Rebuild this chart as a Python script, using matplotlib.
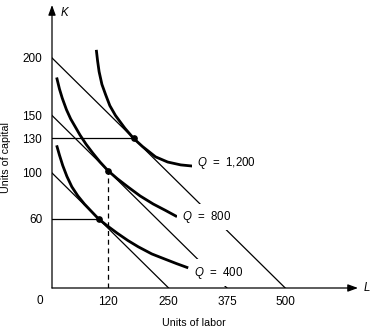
import matplotlib
matplotlib.use('Agg')
import matplotlib.pyplot as plt

plt.rcParams['font.family'] = ['Liberation Sans', 'DejaVu Sans']
plt.rcParams['mathtext.fontset'] = 'custom'
plt.rcParams['mathtext.it'] = 'Liberation Sans:italic'
plt.rcParams['mathtext.rm'] = 'Liberation Sans'

# ---- data ----
budget_K_intercepts = [200, 150, 100]
budget_L_intercepts = [500, 375, 250]

Q_labels = ['1,200', '800', '400']
Q1200_L = [95, 97.7, 101, 107, 115, 124, 136, 156, 175, 194, 222, 248, 276, 301]
Q1200_K = [207, 197.5, 188, 177, 168, 158.5, 150, 139, 130, 123, 114, 109.5, 107, 106]
Q800_L = [10, 16, 22, 31, 40, 50, 60, 73, 87, 103, 120, 140, 164, 189, 217, 243, 268]
Q800_K = [183, 173, 165, 155, 147, 140, 133, 125, 117.5, 109.5, 102, 95, 87.5, 80, 73, 67.5, 62]
Q400_L = [10, 16, 23, 32, 42.5, 55.5, 69.5, 84, 100, 118, 140, 163, 185, 214, 241, 267, 292]
Q400_K = [124, 115.5, 106.5, 97, 88, 80, 73, 66.8, 60, 54.2, 47.6, 41.2, 35.8, 29.6, 25.3, 21.2, 17.5]

tangency_L = [175, 120, 100]
tangency_K = [130, 102, 60]

x_ticks = [120, 250, 375, 500]
y_ticks = [60, 100, 130, 150, 200]

W, H = 371, 330
fig = plt.figure(figsize=(W / 100, H / 100), dpi=100)
ax = fig.add_axes([52 / W, (H - 288) / H, 306 / W, 283 / H])
ax.set_xlim(0, 656)
ax.set_ylim(0, 246)
for s in ax.spines.values():
    s.set_visible(False)

# axes with arrows
arrow_kw = dict(arrowstyle='-|>,head_length=0.6,head_width=0.22', lw=0.9,
                color='black', shrinkA=0, shrinkB=0)
ax.annotate('', xy=(656, 0), xytext=(0, 0), arrowprops=arrow_kw, annotation_clip=False)
ax.annotate('', xy=(0, 246), xytext=(0, 0), arrowprops=arrow_kw, annotation_clip=False)

# budget lines
for k0, l0 in zip(budget_K_intercepts, budget_L_intercepts):
    ax.plot([0, l0], [k0, 0], color='black', lw=0.9, zorder=2)

# isoquants
curves = [(Q1200_L, Q1200_K), (Q800_L, Q800_K), (Q400_L, Q400_K)]
for L, K in curves:
    ax.plot(L, K, color='black', lw=2.0, solid_capstyle='butt', zorder=3)

# guide lines
ax.plot([0, tangency_L[0]], [tangency_K[0], tangency_K[0]], color='black', lw=0.9, zorder=2)
ax.plot([0, tangency_L[2]], [tangency_K[2], tangency_K[2]], color='black', lw=0.9, zorder=2)
ax.plot([tangency_L[1], tangency_L[1]], [0, tangency_K[1]], color='black', lw=0.9,
        linestyle=(0, (4, 3)), zorder=2)

# tangency points
ax.plot(tangency_L, tangency_K, 'o', color='black', ms=3.8, zorder=4)

# curve labels
offsets = [(4.4, 2.7), (4.7, -0.6), (5.8, -4.8)]
for (L, K), lab, off in zip(curves, Q_labels, offsets):
    ax.annotate(r'$Q$  =  ' + lab, xy=(L[-1], K[-1]), xytext=off,
                textcoords='offset pixels', ha='left', va='center', fontsize=8.3,
                bbox=dict(facecolor='white', edgecolor='none', boxstyle='square,pad=0.45'),
                zorder=6, annotation_clip=False)

# ticks
ax.set_xticks(x_ticks)
ax.set_xticklabels([str(v) for v in x_ticks], fontsize=8.5)
ax.set_yticks(y_ticks)
ax.set_yticklabels([str(v) for v in y_ticks], fontsize=8.5)
ax.tick_params(axis='both', length=0)
ax.tick_params(axis='x', pad=6)
ax.tick_params(axis='y', pad=7)

# origin label and axis letters
fig.text(40 / W, 1 - 301 / H, '0', ha='center', va='center', fontsize=8.5)
fig.text(64 / W, 1 - 13 / H, 'K', ha='center', va='center', fontsize=8.3, style='italic')
fig.text(367 / W, 1 - 288 / H, 'L', ha='center', va='center', fontsize=8.3, style='italic')

fig.text(193.5 / W, 1 - 323 / H, 'Units of labor', ha='center', va='center', fontsize=7.7)
fig.text(6 / W, 1 - 157 / H, 'Units of capital', ha='center', va='center', fontsize=7.7,
         rotation=90)

fig.savefig('out.png', dpi=100)
